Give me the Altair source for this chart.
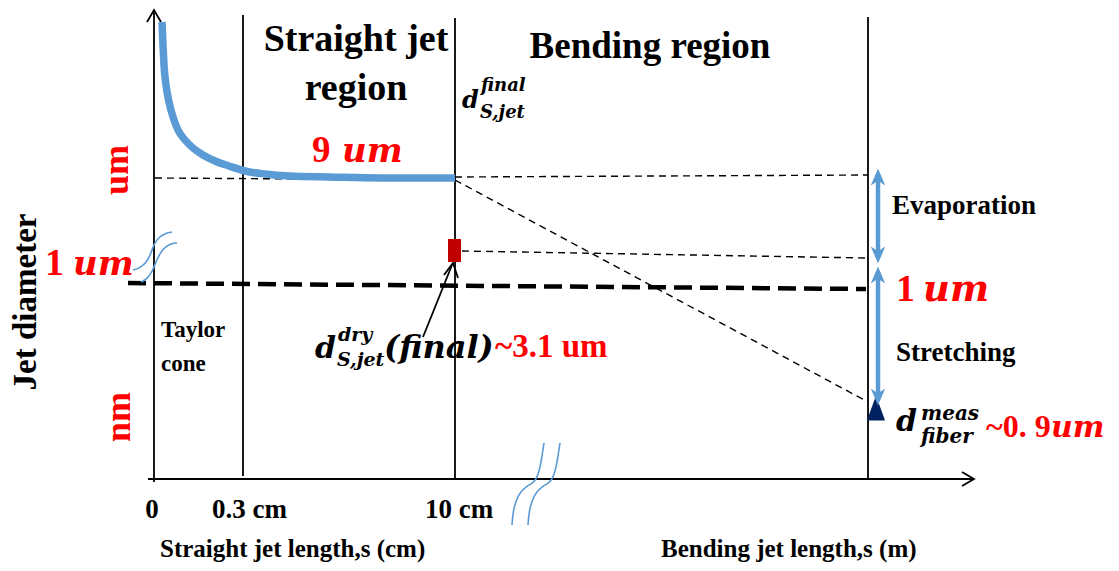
import altair as alt
import pandas as pd

# ---------------- canvas (diagram units = picture pixels) ----------------
W, H = 1103, 555
X_DOM = [8, 1111]
Y_DOM = [8, 563]

# ---------------- data ----------------
# jet diameter curve in the straight-jet region
curve_x = [162, 163, 164, 166, 169, 173, 178, 185, 193, 203, 215, 229, 245, 265, 290, 330, 380, 455]
curve_y = [22, 45, 65, 85, 102, 117, 130, 140, 148, 155, 161, 166, 171, 174, 176, 177, 178, 178]

# axes and region boundaries (solid)
solid_paths = [
    ([154, 154], [482, 10]),          # y axis
    ([148, 974], [479, 479]),         # x axis
    ([147, 154, 161], [22, 10, 22]),  # y arrow head
    ([962, 974, 962], [472, 479, 486]),  # x arrow head
    ([243, 243], [15, 476]),          # 0.3 cm
    ([455, 455], [18, 480]),          # 10 cm
    ([868, 868], [17, 480]),          # collector
    ([423, 452], [337, 265]),         # pointer
    ([444, 453, 458], [275, 263, 278]),  # pointer head
]

# thin dashed guides
thin_dash_paths = [
    ([155, 455], [178, 180]),
    ([455, 868], [177, 175]),
    ([455, 868], [180, 402]),
    ([462, 866], [251, 258]),
]
# thick dashed 1 um level
thick_dash_paths = [([128, 866], [283, 289])]

# axis-break squiggles
break_paths = [
    ([133, 140, 147, 151, 154, 159, 166, 172], [270, 268, 262, 253, 244, 237, 233, 232]),
    ([141, 147, 152, 156, 160, 166, 173, 177], [282, 279, 272, 262, 253, 246, 243, 243]),
    ([512, 513, 516, 521, 527, 533, 537, 540, 542, 544], [525, 512, 500, 491, 486, 483, 478, 468, 456, 443]),
    ([528, 529, 532, 537, 543, 549, 553, 556, 558, 560], [525, 512, 500, 491, 486, 483, 478, 468, 456, 443]),
]

# blue double arrows (evaporation, stretching)
arrow_paths = [([878, 878], [174, 258]), ([878, 878], [272, 399])]
head_up_x, head_up_y = [878, 878], [177, 275]
head_dn_x, head_dn_y = [878, 878], [255, 397]

# markers
rect_x, rect_x2, rect_y, rect_y2 = [448], [461], [239], [262]
tri_x, tri_y = [876], [408]

# ---------------- texts ----------------
tb_center = dict(t=["Straight jet", "region", "Bending region", "0"],
                 x=[356, 356, 650, 152], y=[51, 100, 58, 518], s=[38, 38, 37, 27])
tb_left = dict(t=["Taylor", "cone", "0.3 cm", "10 cm", "Straight jet length,s (cm)",
                  "Bending jet  length,s (m)", "Evaporation", "Stretching"],
               x=[161, 161, 212, 425, 160, 661, 892, 896],
               y=[337, 371, 518, 518, 557, 557, 214, 361],
               s=[23, 23, 27, 27, 25, 25, 27, 27])
red_up = dict(t=["9", "1", "1", "~3.1 um", "~0. 9"],
              x=[312, 45, 896, 495, 986], y=[162, 275, 301, 357, 437], s=[37, 38, 38, 33, 32])
red_rot = dict(t=["um", "nm"], x=[117, 119], y=[170, 417], s=[36, 36])
red_math = dict(t=["um", "um", "um", "um"], x=[342, 73, 923, 1051], y=[162, 275, 301, 437],
                s=[34, 34, 37, 30])
math_black = dict(t=["d", "final", "S,jet", "d", "dry", "S,jet", "(final)", "d", "meas", "fiber"],
                  x=[462, 481, 480, 315, 338, 337, 384, 896, 921, 921],
                  y=[108, 91, 118, 358, 341, 366, 358, 431, 420, 443],
                  s=[24, 18, 18, 30, 19, 19, 32, 30, 20, 20])
ylab = dict(t=["Jet diameter"], x=[26], y=[302], s=[33])

BLUE = "#5b9bd5"
RED = "#ff0000"

xs = alt.Scale(domain=X_DOM, nice=False, zero=False)
ys = alt.Scale(domain=Y_DOM, nice=False, zero=False, reverse=True)


def X(f="x"):
    return alt.X(f"{f}:Q", scale=xs, axis=None)


def Y(f="y"):
    return alt.Y(f"{f}:Q", scale=ys, axis=None)


def lines(paths, width, color, dash=None, interp="linear"):
    rows = []
    for i, (px, py) in enumerate(paths):
        for j, (a, b) in enumerate(zip(px, py)):
            rows.append(dict(pid=i, o=j, x=a, y=b))
    mk = dict(strokeWidth=width, color=color, interpolate=interp)
    if dash:
        mk["strokeDash"] = dash
        mk["strokeCap"] = "butt"
    return alt.Chart(pd.DataFrame(rows)).mark_line(**mk).encode(
        x=X(), y=Y(), detail="pid:N", order="o:Q")


def texts(d, color, align="left", baseline="alphabetic", font="Liberation Serif",
          style="normal", weight="bold", angle=0):
    df = pd.DataFrame(d)
    return alt.Chart(df).mark_text(align=align, baseline=baseline, font=font,
                                   fontStyle=style, fontWeight=weight, angle=angle,
                                   color=color).encode(
        x=X(), y=Y(), text="t:N", size=alt.Size("s:Q", scale=None))


curve = alt.Chart(pd.DataFrame(dict(x=curve_x, y=curve_y, o=range(len(curve_x))))).mark_line(
    color=BLUE, strokeWidth=7.5, interpolate="monotone").encode(x=X(), y=Y(), order="o:Q")

rect = alt.Chart(pd.DataFrame(dict(x=rect_x, x2=rect_x2, y=rect_y, y2=rect_y2))).mark_rect(
    color="#c00000").encode(x=X(), x2="x2:Q", y=Y(), y2="y2:Q")

tri = alt.Chart(pd.DataFrame(dict(x=tri_x, y=tri_y))).mark_point(
    shape="M0,-1L0.72,1L-0.72,1Z", filled=True, opacity=1, color="#002060", size=625).encode(
    x=X(), y=Y())

UP = "M0,-1L0.85,1L0,0.45L-0.85,1Z"
DN = "M0,1L0.85,-1L0,-0.45L-0.85,-1Z"
heads_up = alt.Chart(pd.DataFrame(dict(x=head_up_x, y=head_up_y))).mark_point(
    shape=UP, filled=True, opacity=1, color=BLUE, size=289).encode(x=X(), y=Y())
heads_dn = alt.Chart(pd.DataFrame(dict(x=head_dn_x, y=head_dn_y))).mark_point(
    shape=DN, filled=True, opacity=1, color=BLUE, size=289).encode(x=X(), y=Y())

layers = [
    lines(thin_dash_paths, 1.4, "black", dash=[7, 5]),
    lines(thick_dash_paths, 4.5, "black", dash=[18, 8]),
    lines(solid_paths, 1.8, "black"),
    curve,
    lines(break_paths, 1.6, BLUE, interp="basis"),
    rect,
    tri,
    lines(arrow_paths, 4.5, BLUE),
    heads_up,
    heads_dn,
    texts(tb_center, "black", align="center"),
    texts(tb_left, "black"),
    texts(ylab, "black", align="center", baseline="middle", angle=270),
    texts(red_up, RED),
    texts(red_rot, RED, align="center", baseline="middle", angle=270),
    texts(red_math, RED, font="DejaVu Serif", style="italic"),
    texts(math_black, "black", font="DejaVu Serif", style="italic"),
]

chart = alt.layer(*layers).properties(
    width=W, height=H, padding=0, autosize=alt.AutoSizeParams(type="none")
).configure_view(stroke=None)

chart.save("out.html", embed_options={"renderer": "svg", "actions": False})
